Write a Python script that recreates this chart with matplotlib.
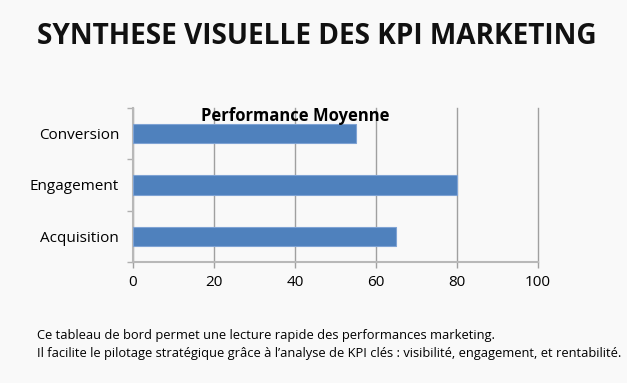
import matplotlib
matplotlib.use('Agg')
import matplotlib.pyplot as plt

plt.rcParams['font.family'] = ['Open Sans', 'DejaVu Sans']

categories = ['Acquisition', 'Engagement', 'Conversion']
values = [65, 80, 55]
xticks = [0, 20, 40, 60, 80, 100]

bg = '#f9f9f9'
fig = plt.figure(figsize=(6.27, 3.83), dpi=100, facecolor=bg)
ax = fig.add_axes([133/627, 1-262/383, 405/627, 154/383], facecolor=bg)

ypos = list(range(len(categories)))
ax.barh(ypos, values, height=0.38, color='#4f81bd', edgecolor='#7fa3d4', linewidth=0.8, zorder=3)

ax.set_xlim(0, 100)
ax.set_ylim(-0.5, len(categories) - 0.5)
ax.set_xticks(xticks)
ax.set_xticklabels([str(t) for t in xticks], fontsize=11)
ax.set_yticks(ypos)
ax.set_yticklabels(categories, fontsize=11)
ax.set_yticks([-0.5, 0.5, 1.5, 2.5], minor=True)
ax.tick_params(axis='y', which='major', length=0, pad=10)
ax.tick_params(axis='y', which='minor', length=4, color='#b0b0b0', width=1)
ax.tick_params(axis='x', length=4, color='#a0a0a0', width=1, pad=5)
ax.grid(axis='x', color='#a0a0a0', linewidth=1, zorder=0)
for gl in ax.get_xgridlines():
    gl.set_clip_on(False)

for s in ['top', 'right']:
    ax.spines[s].set_visible(False)
ax.spines['left'].set_color('#b8b8b8')
ax.spines['left'].set_linewidth(1.5)
ax.spines['bottom'].set_color('#b8b8b8')
ax.spines['bottom'].set_linewidth(1.5)

ax.text(0.40, 0.95, 'Performance Moyenne', transform=ax.transAxes, ha='center', va='center',
        fontsize=12, fontweight='bold', zorder=5)

fig.text(37/627, 1-37/383, 'SYNTHESE VISUELLE DES KPI MARKETING', fontsize=20.2,
         fontweight='bold', color='#111111', ha='left', va='center')
fig.text(37/627, 1-335/383, 'Ce tableau de bord permet une lecture rapide des performances marketing.',
         fontsize=9.3, ha='left', va='center')
fig.text(37/627, 1-354/383, 'Il facilite le pilotage stratégique grâce à l\u2019analyse de KPI clés : visibilité, engagement, et rentabilité.',
         fontsize=9.3, ha='left', va='center')

fig.savefig('out.png', dpi=100, facecolor=bg)
